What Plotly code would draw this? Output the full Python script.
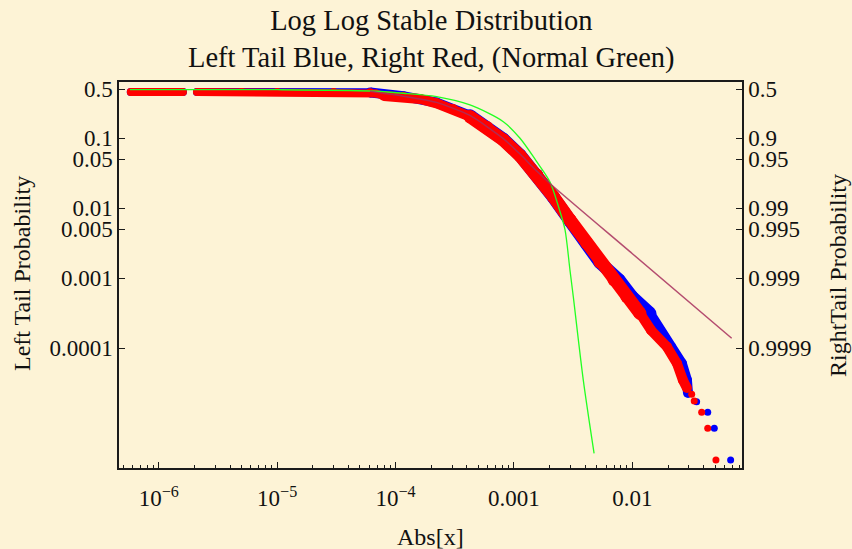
import plotly.graph_objects as go

# ---------------- data ----------------
# Right tail (red) empirical tail probability
red_flat_x = [5.8e-7, 1.0e-6, 1.6e-6, None, 2.1e-6, 5.0e-6, 1.0e-5, 3.0e-5, 6.1e-5, 6.82e-5, 7.98e-5]
red_flat_y = [0.46, 0.46, 0.46, None, 0.46, 0.46, 0.46, 0.458, 0.455, 0.437, 0.402]
red_shoulder_x = [7.98e-5, 1.16e-4, 1.61e-4, 2.22e-4, 3.05e-4, 4.25e-4]
red_shoulder_y = [0.402, 0.393, 0.364, 0.316, 0.262, 0.204]
red_body_x = [4.25e-4, 5.92e-4, 8.13e-4, 1.125e-3, 1.556e-3, 2.15e-3, 2.97e-3, 4.11e-3, 5.32e-3, 7.0e-3, 8.99e-3, 0.01159]
red_body_y = [0.204, 0.1426, 0.0946, 0.0564, 0.0299, 0.01466, 6.81e-3, 3.19e-3, 1.71e-3, 9.46e-4, 5.46e-4, 3.16e-4]
red_tail_x = [0.01159, 0.01436, 0.0196, 0.0238, 0.0267, 0.0289]
red_tail_y = [3.16e-4, 1.82e-4, 1.05e-4, 6.1e-5, 3.52e-5, 2.71e-5]
red_dots_x = [0.0317, 0.0333, 0.0385, 0.0433, 0.0508]
red_dots_y = [2.20e-5, 1.77e-5, 1.22e-5, 7.2e-6, 2.54e-6]

# Left tail (blue) empirical tail probability
blue_flat_x = [5.8e-7, 1.6e-6, None, 2.1e-6, 6.1e-5]
blue_flat_y = [0.46, 0.46, None, 0.46, 0.455]
blue_shoulder_x = [6.1e-5, 1.16e-4, 2.22e-4, 4.25e-4]
blue_shoulder_y = [0.452, 0.400, 0.324, 0.210]
blue_body_x = [4.25e-4, 8.13e-4, 1.125e-3, 1.556e-3, 2.15e-3, 2.97e-3, 4.11e-3, 5.32e-3, 7.71e-3, 9.9e-3, 0.01406]
blue_body_y = [0.210, 0.0965, 0.0572, 0.0299, 0.01440, 6.65e-3, 3.12e-3, 1.68e-3, 9.46e-4, 5.46e-4, 3.16e-4]
blue_tail_x = [0.01406, 0.0171, 0.0212, 0.0262, 0.0289, 0.0295]
blue_tail_y = [3.16e-4, 1.82e-4, 1.05e-4, 6.1e-5, 3.52e-5, 2.30e-5]
blue_dots_x = [0.0349, 0.0433, 0.0492, 0.0676]
blue_dots_y = [1.73e-5, 1.22e-5, 7.2e-6, 2.54e-6]

# Normal distribution (green)
green_x = [5.7e-7, 1.0e-5, 6.08e-5, 1.16e-4, 2.22e-4, 4.25e-4, 8.13e-4, 1.125e-3, 1.556e-3,
           2.01e-3, 2.45e-3, 2.70e-3, 2.97e-3, 3.17e-3, 3.85e-3, 4.75e-3]
green_y = [0.497, 0.494, 0.474, 0.44, 0.393, 0.299, 0.1726, 0.1, 0.0464,
           0.024, 8.93e-3, 4.9e-3, 1.32e-3, 5.46e-4, 3.52e-5, 3.16e-6]

# Fitted stable tail (purple)
fit_x = [6.08e-5, 1.16e-4, 2.22e-4, 4.25e-4, 8.13e-4, 1.125e-3, 1.556e-3, 2.08e-3, 0.01, 0.069]
fit_y = [0.468, 0.400, 0.326, 0.212, 0.0990, 0.0595, 0.0340, 0.0215, 2.243e-3, 1.39e-4]

# Tick labels
x_tickvals = [1e-6, 1e-5, 1e-4, 1e-3, 1e-2]
x_ticktext = ["10<sup>\u22126</sup>", "10<sup>\u22125</sup>", "10<sup>\u22124</sup>", "0.001", "0.01"]
y_tickvals = [0.5, 0.1, 0.05, 0.01, 0.005, 0.001, 0.0001]
y_ticktext_left = ["0.5", "0.1", "0.05", "0.01", "0.005", "0.001", "0.0001"]
y_ticktext_right = ["0.5", "0.9", "0.95", "0.99", "0.995", "0.999", "0.9999"]

# ---------------- styling ----------------
BG = "#FDF3D6"
RED = "#FF0000"
BLUE = "#0000FF"
GREEN = "#22FF22"
PURPLE = "#A8305E"
AX = "#1a1a1a"
FONT = "Liberation Serif"

fig = go.Figure()

def band(x, y, color, width):
    fig.add_trace(go.Scatter(
        x=x, y=y, mode="lines+markers",
        line=dict(color=color, width=width),
        marker=dict(color=color, size=width, line=dict(width=0)),
        hoverinfo="skip", showlegend=False, connectgaps=False))

def dots(x, y, color, size):
    fig.add_trace(go.Scatter(x=x, y=y, mode="markers",
                             marker=dict(color=color, size=size, line=dict(width=0)),
                             hoverinfo="skip", showlegend=False))

# blue below red
band(blue_flat_x, blue_flat_y, BLUE, 8)
band(blue_shoulder_x, blue_shoulder_y, BLUE, 10)
band(blue_body_x, blue_body_y, BLUE, 13)
band(blue_tail_x, blue_tail_y, BLUE, 10)
dots(blue_dots_x, blue_dots_y, BLUE, 7)

band(red_flat_x, red_flat_y, RED, 8)
band(red_shoulder_x, red_shoulder_y, RED, 10)
band(red_body_x, red_body_y, RED, 13)
band(red_tail_x, red_tail_y, RED, 10)
dots(red_dots_x, red_dots_y, RED, 7)

fig.add_trace(go.Scatter(x=green_x, y=green_y, mode="lines",
                         line=dict(color=GREEN, width=1.3, shape="spline", smoothing=0.8),
                         hoverinfo="skip", showlegend=False))
fig.add_trace(go.Scatter(x=fit_x, y=fit_y, mode="lines",
                         line=dict(color=PURPLE, width=1.5, shape="spline", smoothing=0.6),
                         opacity=0.85, hoverinfo="skip", showlegend=False))
# empty trace to hold the right-hand axis
fig.add_trace(go.Scatter(x=[], y=[], yaxis="y2", showlegend=False, hoverinfo="skip"))

tickfont = dict(family=FONT, size=23, color="#111")
minor_x = [m * 10.0 ** e for e in range(-7, -1) for m in range(2, 10)]

yrange = [-5.71, -0.196]

fig.update_layout(
    width=852, height=549,
    margin=dict(l=119, r=110, t=82, b=81, pad=0),
    paper_bgcolor=BG, plot_bgcolor=BG,
    showlegend=False,
    xaxis=dict(type="log", range=[-6.336, -1.074],
               tickmode="array", tickvals=x_tickvals, ticktext=x_ticktext,
               ticks="inside", ticklen=6, tickwidth=1.3, tickcolor=AX,
               showline=True, linecolor=AX, linewidth=1.5, mirror=True,
               showgrid=False, zeroline=False, tickfont=tickfont, ticklabelstandoff=9,
               minor=dict(tickmode="array", tickvals=minor_x, ticks="inside",
                          ticklen=3, tickwidth=1, tickcolor=AX, showgrid=False)),
    yaxis=dict(type="log", range=yrange,
               tickmode="array", tickvals=y_tickvals, ticktext=y_ticktext_left,
               ticks="inside", ticklen=6, tickwidth=1.3, tickcolor=AX,
               showline=True, linecolor=AX, linewidth=1.5,
               showgrid=False, zeroline=False, tickfont=tickfont),
    yaxis2=dict(type="log", range=yrange, overlaying="y", side="right", anchor="x",
                tickmode="array", tickvals=y_tickvals, ticktext=y_ticktext_right,
                ticks="inside", ticklen=6, tickwidth=1.3, tickcolor=AX,
                showline=True, linecolor=AX, linewidth=1.5,
                showgrid=False, zeroline=False, tickfont=tickfont),
    annotations=[
        dict(text="Log Log Stable Distribution<br>Left Tail Blue, Right Red, (Normal Green)",
             xref="paper", yref="paper", x=(431 - 119) / 623, y=(468 - 39) / 386,
             xanchor="center", yanchor="middle", showarrow=False,
             font=dict(family=FONT, size=28.5, color="#111")),
        dict(text="Abs[x]", xref="paper", yref="paper", x=(430 - 119) / 623, y=(468 - 537) / 386,
             xanchor="center", yanchor="middle", showarrow=False,
             font=dict(family=FONT, size=24, color="#111")),
        dict(text="Left Tail Probability", xref="paper", yref="paper",
             x=(22 - 119) / 623, y=(468 - 274) / 386, textangle=-90,
             xanchor="center", yanchor="middle", showarrow=False,
             font=dict(family=FONT, size=24, color="#111")),
        dict(text="RightTail Probability", xref="paper", yref="paper",
             x=(838 - 119) / 623, y=(468 - 276) / 386, textangle=-90,
             xanchor="center", yanchor="middle", showarrow=False,
             font=dict(family=FONT, size=24, color="#111")),
    ],
)

fig.write_html("out.html")
